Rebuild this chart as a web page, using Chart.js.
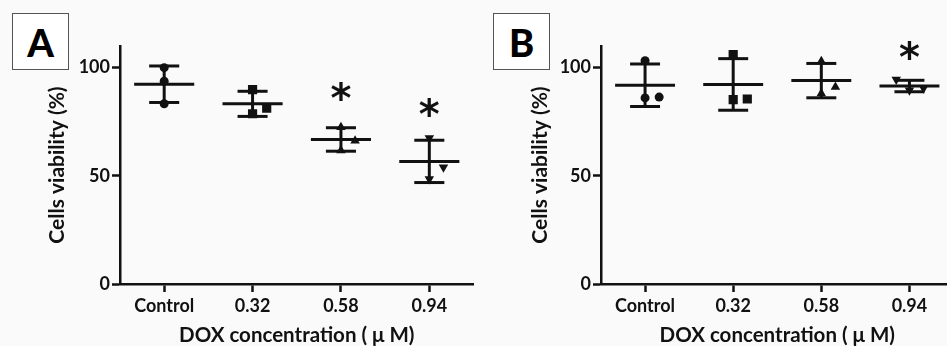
<!DOCTYPE html>
<html>
<head>
<meta charset="utf-8">
<script src="https://cdn.jsdelivr.net/npm/chart.js@4.4.0/dist/chart.umd.min.js"></script>
<style>
  html, body { margin: 0; padding: 0; width: 947px; height: 346px; overflow: hidden; background: #fafafa; }
  canvas { position: absolute; top: 0; }
  #chartA { left: 0; }
  #chartB { left: 470px; }
  .panel-label {
    position: absolute; top: 13px; width: 55px; height: 55px;
    border: 1px solid #555; background: #fff; color: #000;
    font: 900 38px Lato, sans-serif; text-align: center; line-height: 56px;
  }
</style>
</head>
<body>
<div class="panel-label" style="left:12px">A</div>
<div class="panel-label" style="left:493px">B</div>
<canvas id="chartA" width="480" height="346"></canvas>
<canvas id="chartB" width="490" height="346"></canvas>
<script>
const categories = ['Control', '0.32', '0.58', '0.94'];
const yTicks = [0, 50, 100];

// Panel A - replicas por grupo
const controlA = [100, 93.7, 83.3];
const dox032A = [89.8, 78.7, 81.3];
const dox058A = [72.5, 61.7, 66.2];
const dox094A = [67.5, 48.5, 54];
const starsA = [null, null, 89, 82];

// Panel B - replicas por grupo
const controlB = [103.2, 86, 86.4];
const dox032B = [106, 85.2, 85.5];
const dox058B = [103, 88, 91];
const dox094B = [94.5, 89.5, 90.5];
const starsB = [null, null, null, 108];

// desplazamiento horizontal de los puntos (en unidades de categoria)
const jitterA = [[0, 0, 0], [0, 0, 0.16], [0, 0, 0.16], [0, 0, 0.16]];
const jitterB = [[0, 0, 0.16], [0, 0, 0.16], [0, 0, 0.16], [-0.15, 0, 0.16]];

const pointStyles = ['circle', 'rect', 'triangle', 'triangle'];
const pointRadii = [4.5, 6.5, 5.5, 5.5];
const ink = '#111';

Chart.defaults.font.family = 'Lato, sans-serif';

function mean(a) { return a.reduce((s, v) => s + v, 0) / a.length; }
function sd(a) {
  const m = mean(a);
  return Math.sqrt(a.reduce((s, v) => s + (v - m) * (v - m), 0) / (a.length - 1));
}

const meanSdPlugin = {
  id: 'meanSd',
  beforeDatasetsDraw(chart, args, opts) {
    const { ctx, scales: { x, y } } = chart;
    ctx.save();
    ctx.strokeStyle = ink;
    ctx.lineWidth = 3;
    const line = (x1, y1, x2, y2) => { ctx.beginPath(); ctx.moveTo(x1, y1); ctx.lineTo(x2, y2); ctx.stroke(); };
    opts.groups.forEach((vals, i) => {
      const m = mean(vals), s = sd(vals);
      const yM = y.getPixelForValue(m);
      const yHi = y.getPixelForValue(m + s);
      const yLo = y.getPixelForValue(m - s);
      line(x.getPixelForValue(i - 0.34), yM, x.getPixelForValue(i + 0.34), yM);
      line(x.getPixelForValue(i - 0.17), yHi, x.getPixelForValue(i + 0.17), yHi);
      line(x.getPixelForValue(i - 0.17), yLo, x.getPixelForValue(i + 0.17), yLo);
      line(x.getPixelForValue(i), yHi, x.getPixelForValue(i), yLo);
    });
    ctx.restore();
  },
  afterDatasetsDraw(chart, args, opts) {
    const { ctx, scales: { x, y } } = chart;
    ctx.save();
    ctx.fillStyle = ink;
    ctx.font = 'bold 40px "DejaVu Sans"';
    ctx.textAlign = 'center';
    ctx.textBaseline = 'alphabetic';
    const mt = ctx.measureText('*');
    const off = (mt.actualBoundingBoxAscent - mt.actualBoundingBoxDescent) / 2;
    opts.stars.forEach((v, i) => {
      if (v === null) return;
      ctx.fillText('*', x.getPixelForValue(i), y.getPixelForValue(v) + off);
    });
    ctx.restore();
  }
};

function buildChart(id, groups, jitter, stars, axisWidth, titlePad) {
  const datasets = groups.map((vals, i) => ({
    label: categories[i],
    data: vals.map((v, j) => ({ x: i + jitter[i][j], y: v })),
    pointStyle: pointStyles[i],
    pointRotation: i === 3 ? 180 : 0,
    pointRadius: pointRadii[i],
    pointBorderWidth: 0,
    backgroundColor: ink,
    borderColor: ink
  }));

  return new Chart(document.getElementById(id), {
    type: 'scatter',
    data: { datasets },
    options: {
      responsive: false,
      animation: false,
      layout: { padding: { top: 46, right: 2, left: 0, bottom: 0 } },
      plugins: {
        legend: { display: false },
        tooltip: { enabled: false },
        meanSd: { groups, stars }
      },
      scales: {
        x: {
          type: 'linear', min: -0.5, max: 3.5,
          afterBuildTicks: ax => { ax.ticks = categories.map((c, i) => ({ value: i })); },
          afterFit: ax => { ax.height = 62; },
          ticks: {
            callback: v => categories[v],
            color: ink, font: { size: 18, weight: 'bold' },
            padding: 3, autoSkip: false, maxRotation: 0
          },
          grid: { drawOnChartArea: false, drawTicks: true, tickLength: 8, tickColor: ink, tickWidth: 2.5 },
          border: { color: ink, width: 2.5 },
          title: {
            display: true, text: 'DOX concentration ( μ M)', color: ink,
            font: { size: 20.5, weight: 'bold', lineHeight: 1 }, padding: { top: 0, bottom: 0 }
          }
        },
        y: {
          type: 'linear', min: 0, max: 110,
          afterBuildTicks: ax => { ax.ticks = yTicks.map(v => ({ value: v })); },
          afterFit: ax => { ax.width = axisWidth; },
          ticks: { color: ink, font: { size: 18, weight: 'bold' }, padding: 2 },
          grid: { drawOnChartArea: false, drawTicks: true, tickLength: 8, tickColor: ink, tickWidth: 2.5 },
          border: { color: ink, width: 2.5 },
          title: {
            display: true, text: 'Cells viability (%)', color: ink,
            font: { size: 21, weight: 'bold' }, padding: { top: titlePad, bottom: 0 }
          }
        }
      }
    },
    plugins: [meanSdPlugin]
  });
}

buildChart('chartA', [controlA, dox032A, dox058A, dox094A], jitterA, starsA, 120, 45);
buildChart('chartB', [controlB, dox032B, dox058B, dox094B], jitterB, starsB, 131, 58);
</script>
</body>
</html>
